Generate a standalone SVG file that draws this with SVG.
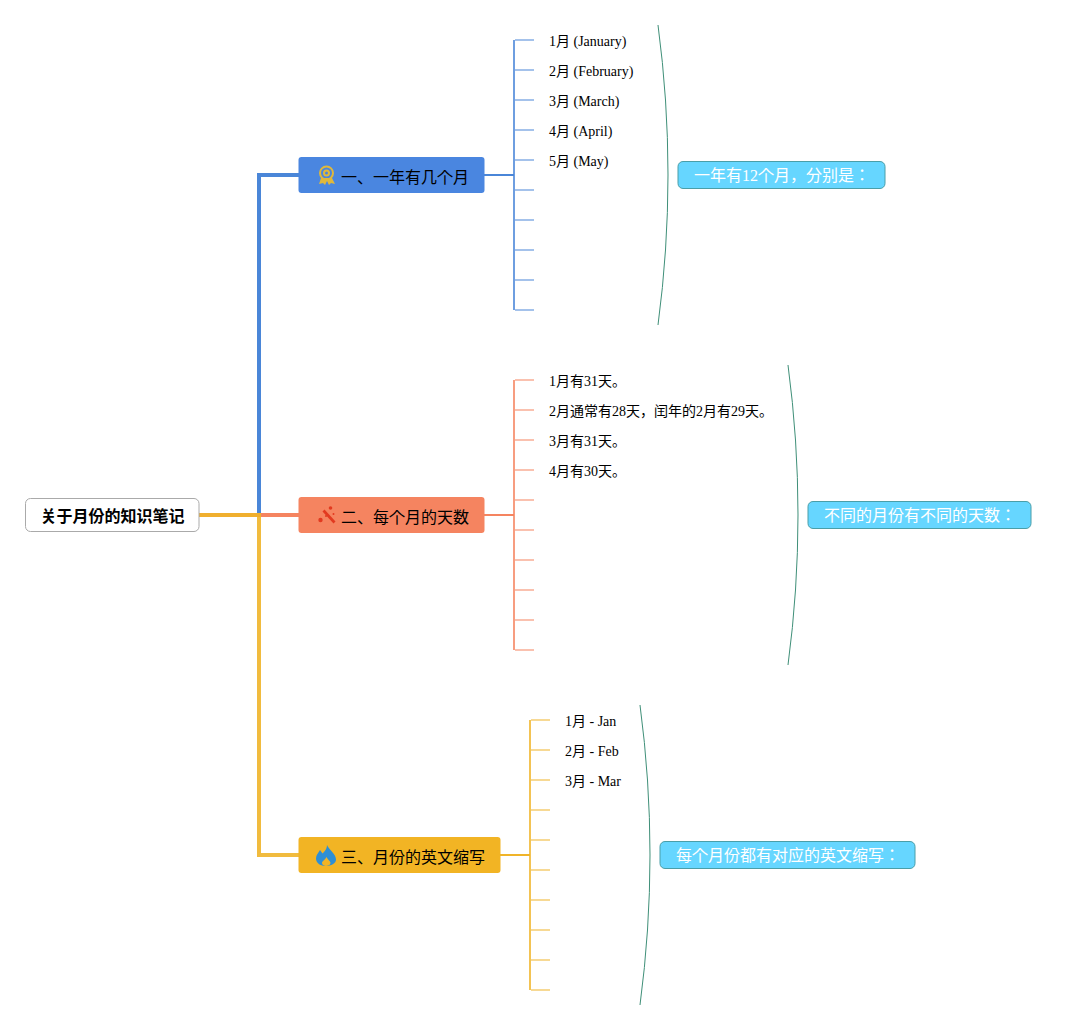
<svg xmlns="http://www.w3.org/2000/svg" width="1076" height="1030" viewBox="0 0 1076 1030">
<style>
text{font-family:"Liberation Serif","Noto Sans CJK JP",serif}
.leaf{font-size:14px;fill:#000}
.topic{font-size:16px;fill:#000}
.root{font-size:16px;font-weight:bold;fill:#000}
.sum{font-size:16px;fill:#fff}
.sumbox{fill:#66d6ff;stroke:#4a9ea8;stroke-width:1}
.brace{fill:none;stroke:#3f8f78;stroke-width:1}
.l{fill:none}
.b{stroke:#4a86d8}.o{stroke:#f58460}.y{stroke:#f0b429}
.main{stroke-width:4}
.sub{stroke-width:2}
.trunk{stroke-width:2;opacity:.8}
.stub{stroke-width:2;opacity:.5}
</style>
<g id="connectors" class="l">
<path class="b main" d="M199 515H259V175H299"/>
<path class="o main" d="M199 515H299"/>
<path class="y main" opacity=".9" d="M199 515H259V855H299"/>
<path class="b sub" d="M484 175H514"/>
<path class="b trunk" d="M514 40V310"/>
<path class="b stub" d="M534 40H515M534 70H515M534 100H515M534 130H515M534 160H515M534 190H515M534 220H515M534 250H515M534 280H515M534 310H515"/>
<path class="o sub" d="M484 515H514"/>
<path class="o trunk" d="M514 380V650"/>
<path class="o stub" d="M534 380H515M534 410H515M534 440H515M534 470H515M534 500H515M534 530H515M534 560H515M534 590H515M534 620H515M534 650H515"/>
<path class="y sub" d="M500 855H530"/>
<path class="y trunk" d="M530 720V990"/>
<path class="y stub" d="M550 720H531M550 750H531M550 780H531M550 810H531M550 840H531M550 870H531M550 900H531M550 930H531M550 960H531M550 990H531"/>
<path class="brace" d="M658 25Q678 175 658 325"/>
<path class="brace" d="M788 365Q808 515 788 665"/>
<path class="brace" d="M640 705Q660 855 640 1005"/>
</g>
<g id="root"><rect x="25.500" y="498.500" width="173.500" height="33" rx="5" fill="#fff" stroke="#aaa"/><text class="root" x="40.500" y="522">关于月份的知识笔记</text></g>
<g id="topic1"><rect x="298.500" y="157" width="186" height="36" rx="3" fill="#4a86e0"/>
<g fill="none" stroke="#e0b83c" stroke-width="2"><circle cx="326.500" cy="173" r="6.500"/><circle cx="326.500" cy="173" r="2.500"/></g><path d="M321 178L319 184L323 183L325 185L327 181L329 185L331 183L335 184L332 178Z" fill="#e0b83c"/>
<text class="topic" x="341" y="183">一、一年有几个月</text></g>
<g id="topic2"><rect x="298.500" y="497" width="186" height="36" rx="3" fill="#f58460"/>
<g fill="#e23a20"><path d="M322.500 511.500L324.500 509.500L335.500 521.500L333.500 523.500Z"/><circle cx="330.500" cy="508" r="1.800"/><circle cx="320.500" cy="520" r="2.200"/><circle cx="333.500" cy="514" r="1"/><circle cx="326" cy="516" r="1"/></g>
<text class="topic" x="341" y="523">二、每个月的天数</text></g>
<g id="topic3"><rect x="298.500" y="837" width="202" height="36" rx="3" fill="#f2b424"/>
<path d="M327 845C329 850 336 854 336 859.500C336 863.500 331 866 326 866C321 866 316 863.500 316 858.500C316 855 318.500 853 320 850C321 851.500 322 852.500 322.500 853.500C324.500 851.500 327 849 327 845Z" fill="#2d8fd5"/><path d="M326.500 857C328 860 330.500 861 330.500 863C330.500 865 328 866 326 866C324 866 322 865 322 863C322 861 325 860 326.500 857Z" fill="#f2b424"/>
<text class="topic" x="341" y="863">三、月份的英文缩写</text></g>
<g id="leaves1">
<text class="leaf" x="549" y="46">1月 (January)</text>
<text class="leaf" x="549" y="76">2月 (February)</text>
<text class="leaf" x="549" y="106">3月 (March)</text>
<text class="leaf" x="549" y="136">4月 (April)</text>
<text class="leaf" x="549" y="166">5月 (May)</text>
</g>
<g id="leaves2">
<text class="leaf" x="549" y="386">1月有31天。</text>
<text class="leaf" x="549" y="416">2月通常有28天，闰年的2月有29天。</text>
<text class="leaf" x="549" y="446">3月有31天。</text>
<text class="leaf" x="549" y="476">4月有30天。</text>
</g>
<g id="leaves3">
<text class="leaf" x="565" y="726">1月 - Jan</text>
<text class="leaf" x="565" y="756">2月 - Feb</text>
<text class="leaf" x="565" y="786">3月 - Mar</text>
</g>
<g id="summary1"><rect class="sumbox" x="678" y="161.500" width="207" height="27" rx="5"/><text class="sum" x="694" y="181">一年有12个月，分别是：</text></g>
<g id="summary2"><rect class="sumbox" x="808" y="501.500" width="223" height="27" rx="5"/><text class="sum" x="824" y="521">不同的月份有不同的天数：</text></g>
<g id="summary3"><rect class="sumbox" x="660" y="841.500" width="255" height="27" rx="5"/><text class="sum" x="676" y="861">每个月份都有对应的英文缩写：</text></g>
</svg>
